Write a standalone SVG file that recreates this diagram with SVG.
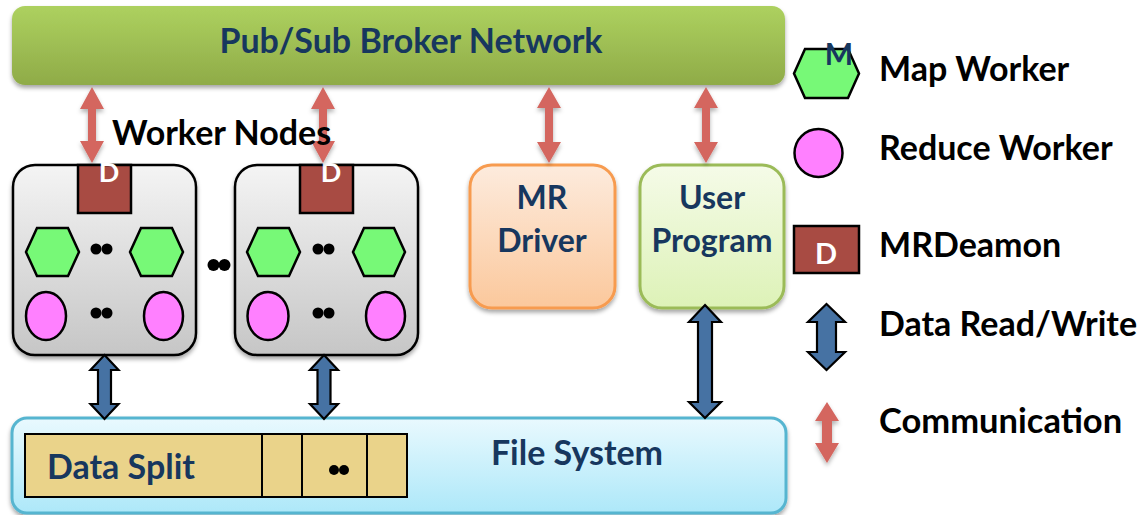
<svg xmlns="http://www.w3.org/2000/svg" width="1139" height="515" viewBox="0 0 1139 515">
  <defs>
    <linearGradient id="gBroker" x1="0" y1="0" x2="0" y2="1">
      <stop offset="0" stop-color="#add15f"/>
      <stop offset="1" stop-color="#8fab48"/>
    </linearGradient>
    <linearGradient id="gWorker" x1="0" y1="0" x2="0" y2="1">
      <stop offset="0" stop-color="#f4f4f4"/>
      <stop offset="1" stop-color="#c6c6c6"/>
    </linearGradient>
    <linearGradient id="gDriver" x1="0" y1="0" x2="0" y2="1">
      <stop offset="0" stop-color="#fdebdd"/>
      <stop offset="1" stop-color="#fbc89c"/>
    </linearGradient>
    <linearGradient id="gUser" x1="0" y1="0" x2="0" y2="1">
      <stop offset="0" stop-color="#f5fbe8"/>
      <stop offset="1" stop-color="#ddf2b7"/>
    </linearGradient>
    <linearGradient id="gFs" x1="0" y1="0" x2="0" y2="1">
      <stop offset="0" stop-color="#e9f9fe"/>
      <stop offset="1" stop-color="#ade8f9"/>
    </linearGradient>
    <filter id="shadow" x="-10%" y="-10%" width="120%" height="130%">
      <feDropShadow dx="0" dy="3" stdDeviation="2" flood-color="#000" flood-opacity="0.35"/>
    </filter>
    <filter id="softShadow" x="-50%" y="-20%" width="200%" height="150%">
      <feDropShadow dx="0" dy="3" stdDeviation="2" flood-color="#000" flood-opacity="0.3"/>
    </filter>
  </defs>
  <style>
    text { font-family: Lato, "Liberation Sans", sans-serif; font-weight: bold; }
    .blue { fill: #17375e; }
    .black { fill: #000; }
    .white { fill: #fff; }
    .hex { fill: #77f977; stroke: #000; stroke-width: 2.5; stroke-linejoin: miter; }
    .red { fill: #ff80ff; stroke: #000; stroke-width: 2.5; }
    .daemon { fill: #a84b43; stroke: #000; stroke-width: 2.5; }
    .dot { fill: #000; }
    .comm { fill: #d4665f; filter: url(#softShadow); }
    .rw { fill: #4672a3; stroke: #000; stroke-width: 2.2; stroke-linejoin: miter; }
  </style>

  <!-- Pub/Sub broker network -->
  <g id="broker">
    <rect x="12" y="6" width="773" height="79" rx="13" fill="url(#gBroker)" filter="url(#shadow)"/>
    <text x="411" y="53" font-size="34" text-anchor="middle" class="blue">Pub/Sub Broker Network</text>
  </g>

  <!-- Worker node 1 -->
  <g id="worker1">
    <rect x="13" y="165" width="183" height="190" rx="22" fill="url(#gWorker)" stroke="#000" stroke-width="2.5" filter="url(#shadow)"/>
    <rect x="78" y="165" width="53" height="48" class="daemon"/>
    <text x="109" y="182" font-size="27" text-anchor="middle" class="white">D</text>
    <polygon class="hex" points="26,252 37,228 68,228 79,252 68,276 37,276"/>
    <polygon class="hex" points="130,252 141,228 172,228 183,252 172,276 141,276"/>
    <circle class="dot" cx="96" cy="249" r="5.5"/>
    <circle class="dot" cx="107" cy="249" r="5.5"/>
    <ellipse class="red" cx="46" cy="316" rx="20" ry="24"/>
    <ellipse class="red" cx="163.5" cy="316" rx="19.5" ry="24"/>
    <circle class="dot" cx="96" cy="313" r="5.5"/>
    <circle class="dot" cx="107" cy="313" r="5.5"/>
  </g>

  <!-- Ellipsis between worker nodes -->
  <g id="more-workers">
    <circle class="dot" cx="213.5" cy="265" r="6"/>
    <circle class="dot" cx="224.5" cy="265" r="6"/>
  </g>

  <!-- Worker node 2 -->
  <g id="worker2">
    <rect x="235" y="165" width="183" height="190" rx="22" fill="url(#gWorker)" stroke="#000" stroke-width="2.5" filter="url(#shadow)"/>
    <rect x="300" y="165" width="53" height="48" class="daemon"/>
    <text x="331" y="182" font-size="27" text-anchor="middle" class="white">D</text>
    <polygon class="hex" points="247,252 258,228 289,228 300,252 289,276 258,276"/>
    <polygon class="hex" points="353,252 364,228 394,228 405,252 394,276 364,276"/>
    <circle class="dot" cx="318" cy="249" r="5.5"/>
    <circle class="dot" cx="329" cy="249" r="5.5"/>
    <ellipse class="red" cx="268" cy="316" rx="20.5" ry="24"/>
    <ellipse class="red" cx="385.5" cy="316" rx="19.5" ry="24"/>
    <circle class="dot" cx="318" cy="313" r="5.5"/>
    <circle class="dot" cx="329" cy="313" r="5.5"/>
  </g>

  <!-- MR driver -->
  <g id="mr-driver">
    <rect x="470" y="165" width="145" height="143" rx="22" fill="url(#gDriver)" stroke="#f79b4f" stroke-width="3" filter="url(#shadow)"/>
    <text x="542" y="209" font-size="32" text-anchor="middle" class="blue">MR</text>
    <text x="542" y="252" font-size="32" text-anchor="middle" class="blue">Driver</text>
  </g>

  <!-- User program -->
  <g id="user-program">
    <rect x="640" y="165" width="144" height="143" rx="22" fill="url(#gUser)" stroke="#9bbb59" stroke-width="3" filter="url(#shadow)"/>
    <text x="712" y="209" font-size="32" text-anchor="middle" class="blue">User</text>
    <text x="712" y="252" font-size="32" text-anchor="middle" class="blue">Program</text>
  </g>

  <!-- File system with data splits -->
  <g id="file-system">
    <rect x="12" y="418" width="774" height="95" rx="15" fill="url(#gFs)" stroke="#56b5d0" stroke-width="3" filter="url(#shadow)"/>
    <rect x="25" y="434" width="382" height="63" fill="#ead38a" stroke="#000" stroke-width="2"/>
    <line x1="262" y1="434" x2="262" y2="497" stroke="#000" stroke-width="2"/>
    <line x1="302" y1="434" x2="302" y2="497" stroke="#000" stroke-width="2"/>
    <line x1="367" y1="434" x2="367" y2="497" stroke="#000" stroke-width="2"/>
    <text x="47" y="479" font-size="34" class="blue">Data Split</text>
    <circle class="dot" cx="334" cy="470" r="5"/>
    <circle class="dot" cx="344" cy="470" r="5"/>
    <text x="577" y="465" font-size="34" text-anchor="middle" class="blue">File System</text>
  </g>

  <!-- Connectors -->
  <g id="connectors">
    <!-- communication (broker) -->
    <path class="comm" d="M92,87 L104,109 L96,109 L96,141 L104,141 L92,163 L80,141 L88,141 L88,109 L80,109 Z"/>
    <path class="comm" d="M323,87 L335,109 L327,109 L327,141 L335,141 L323,163 L311,141 L319,141 L319,109 L311,109 Z"/>
    <path class="comm" d="M549,87 L561,108 L553,108 L553,142 L561,142 L549,163 L537,142 L545,142 L545,108 L537,108 Z"/>
    <path class="comm" d="M706,87 L718,108 L710,108 L710,142 L718,142 L706,163 L694,142 L702,142 L702,108 L694,108 Z"/>
    <!-- data read/write (file system) -->
    <path class="rw" d="M104.5,355 L118.5,370 L111,370 L111,404 L118.5,404 L104.5,419 L90.5,404 L98,404 L98,370 L90.5,370 Z"/>
    <path class="rw" d="M324,355 L338,370 L330.5,370 L330.5,404 L338,404 L324,419 L310,404 L317.5,404 L317.5,370 L310,370 Z"/>
    <path class="rw" d="M705,305 L721,322 L712,322 L712,402 L721,402 L705,418 L689,402 L698,402 L698,322 L689,322 Z"/>
  </g>

  <text x="112" y="145" font-size="34" class="black">Worker Nodes</text>

  <!-- Legend -->
  <g id="legend-map">
    <polygon class="hex" points="794,73.5 805,49 848,49 859,73.5 848,98 805,98"/>
    <text x="839" y="65" font-size="30" text-anchor="middle" class="blue">M</text>
    <text x="879" y="81" font-size="34" class="black">Map Worker</text>
  </g>
  <g id="legend-reduce">
    <circle class="red" cx="818.5" cy="153" r="24"/>
    <text x="879" y="160" font-size="34" class="black">Reduce Worker</text>
  </g>
  <g id="legend-daemon">
    <rect x="794" y="226" width="65" height="47" class="daemon"/>
    <text x="826" y="264" font-size="29" text-anchor="middle" class="white">D</text>
    <text x="879" y="257" font-size="34" class="black">MRDeamon</text>
  </g>
  <g id="legend-rw">
    <path class="rw" d="M826.5,304 L845,322 L836,322 L836,352 L845,352 L826.5,370 L808,352 L817,352 L817,322 L808,322 Z"/>
    <text x="879" y="336" font-size="34" class="black">Data Read/Write</text>
  </g>
  <g id="legend-comm">
    <path class="comm" d="M827,402 L839,421 L832,421 L832,443 L839,443 L827,463 L815,443 L822,443 L822,421 L815,421 Z"/>
    <text x="879" y="433" font-size="34.5" class="black">Communication</text>
  </g>
</svg>
